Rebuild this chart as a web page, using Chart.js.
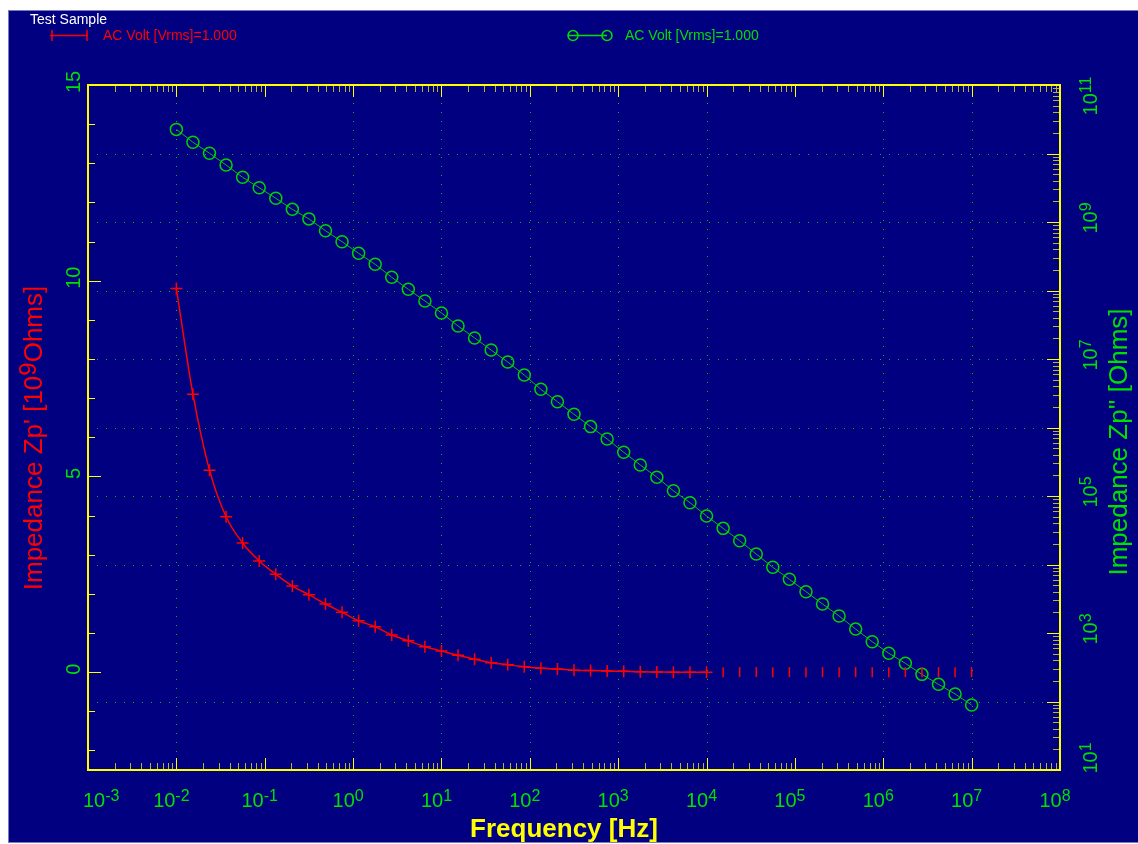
<!DOCTYPE html>
<html>
<head>
<meta charset="utf-8">
<title>Impedance Zp' / Zp'' vs frequency</title>
<script src="https://cdn.jsdelivr.net/npm/chart.js@4"></script>
<style>
  html, body { margin: 0; padding: 0; background: #ffffff; }
  canvas { display: block; }
</style>
</head>
<body>
<canvas id="chart" width="1138" height="844"></canvas>
<script>
// sweep frequencies [Hz]
const frequencies = [
    0.01, 0.0154, 0.02371, 0.03652, 0.05623, 0.0866, 0.1334, 0.2054, 0.3162, 0.487,
    0.7499, 1.155, 1.778, 2.738, 4.217, 6.494, 10, 15.4, 23.71, 36.52,
    56.23, 86.6, 133.4, 205.4, 316.2, 487, 749.9, 1155, 1778, 2738,
    4217, 6494, 1e4, 1.54e4, 2.371e4, 3.652e4, 5.623e4, 8.66e4, 1.334e5, 2.054e5,
    3.162e5, 4.87e5, 7.499e5, 1.155e6, 1.778e6, 2.738e6, 4.217e6, 6.494e6, 1e7
];
// Zp' [10^9 Ohms] (left axis)
const zpReal = [
    9.8, 7.1, 5.16, 3.97, 3.3, 2.84, 2.5, 2.2, 1.98, 1.74,
    1.53, 1.31, 1.16, 0.95, 0.8, 0.65, 0.54, 0.43, 0.33, 0.24,
    0.19, 0.14, 0.1, 0.08, 0.05, 0.04, 0.03, 0.02, 0.01, 0.005,
    0, 0, 0, 0, 0, 0, 0, 0, 0, 0,
    0, 0, 0, 0, 0, 0, 0, 0, 0
];
// Zp'' [Ohms] (right axis)
const zpImag = [
    2.25e10, 1.46e10, 1.01e10, 6.79e9, 4.49e9, 3.17e9, 2.22e9, 1.53e9, 1.11e9, 7.46e8,
    5.16e8, 3.49e8, 2.41e8, 1.56e8, 1.04e8, 7.03e7, 4.7e7, 3.03e7, 2.03e7, 1.35e7,
    9.04e6, 5.83e6, 3.61e6, 2.38e6, 1.56e6, 1.03e6, 6.8e5, 4.35e5, 2.84e5, 1.88e5,
    1.19e5, 7.98e4, 5.11e4, 3.37e4, 2.22e4, 1.42e4, 9.1e3, 6.08e3, 4.01e3, 2.65e3,
    1.77e3, 1.14e3, 746, 506, 361, 249, 178, 129, 88.9
];
// tick labels
const xTickExponents = ['-3', '-2', '-1', '0', '1', '2', '3', '4', '5', '6', '7', '8'];
const yLeftTicks = [15, 10, 5, 0];
const yRightExponents = ['11', '9', '7', '5', '3', '1'];
// dotted grid decades
const xGridExponents = [-2, 0, 1, 2, 3, 4, 6, 7];
const yGridExponents = [10, 9, 8, 7, 6, 5, 4, 2];

const lastLinePoint = 32; // Zp' line stops at 10^4 Hz, only markers after that

const FONT = '"Liberation Sans", Arial, sans-serif';
const NAVY = '#000080';
const YELLOW = '#ffff00';
const OLIVE = '#b4b43a';
const RED = '#ff0000';
const GREEN = '#00e000';
const GRID = '#00c000';

// draw "10" with a raised exponent, in the current transform
function drawPow(ctx, exp, x, y, anchor) {
    ctx.font = '20px ' + FONT;
    const wb = ctx.measureText('10').width;
    ctx.font = '16px ' + FONT;
    const we = ctx.measureText(exp).width;
    const x0 = anchor === 'left' ? x : x - (wb + we) / 2;
    ctx.textAlign = 'left';
    ctx.textBaseline = 'alphabetic';
    ctx.font = '20px ' + FONT;
    ctx.fillText('10', x0, y);
    ctx.font = '16px ' + FONT;
    ctx.fillText(exp, x0 + wb, y - 6);
}

function line(ctx, x1, y1, x2, y2) {
    ctx.beginPath();
    ctx.moveTo(x1, y1);
    ctx.lineTo(x2, y2);
    ctx.stroke();
}

const framePlugin = {
    id: 'frame',
    beforeDraw(chart) {
        const ctx = chart.ctx;
        ctx.save();
        ctx.fillStyle = '#ffffff';
        ctx.fillRect(0, 0, chart.width, chart.height);
        ctx.fillStyle = NAVY;
        ctx.fillRect(8, 10, 1130, 833);
        ctx.strokeStyle = '#7a7abf';
        ctx.lineWidth = 1;
        ctx.strokeRect(8.5, 10.5, 1130, 832);
        ctx.restore();
    },
    beforeDatasetsDraw(chart) {
        const { ctx, chartArea: a, scales } = chart;
        const sx = scales.x, sl = scales.y, sr = scales.y2;
        ctx.save();

        // dotted grid
        ctx.strokeStyle = GRID;
        ctx.lineWidth = 1;
        ctx.setLineDash([1, 8]);
        xGridExponents.forEach(e => {
            const px = Math.round(sx.getPixelForValue(Math.pow(10, e))) + 0.5;
            line(ctx, px, a.bottom, px, a.top);
        });
        yGridExponents.forEach(e => {
            const py = Math.round(sr.getPixelForValue(Math.pow(10, e))) + 0.5;
            line(ctx, a.left, py, a.right, py);
        });
        ctx.setLineDash([]);

        // x ticks, bottom and top, pointing inward
        for (let e = -3; e <= 8; e++) {
            for (let m = 1; m <= 9; m++) {
                if (e === 8 && m > 1) break;
                const px = Math.round(sx.getPixelForValue(m * Math.pow(10, e))) + 0.5;
                const len = m === 1 ? 12 : 7;
                ctx.strokeStyle = m === 1 ? YELLOW : OLIVE;
                line(ctx, px, a.bottom, px, a.bottom - len);
                line(ctx, px, a.top, px, a.top + len);
            }
        }
        // left linear ticks
        for (let v = -2; v <= 15; v++) {
            const py = Math.round(sl.getPixelForValue(v)) + 0.5;
            const major = v % 5 === 0;
            ctx.strokeStyle = major ? YELLOW : YELLOW;
            line(ctx, a.left, py, a.left + (major ? 13 : 7), py);
        }
        // right log ticks
        for (let e = 1; e <= 11; e++) {
            for (let m = 1; m <= 9; m++) {
                if (e === 11 && m > 1) break;
                const py = Math.round(sr.getPixelForValue(m * Math.pow(10, e))) + 0.5;
                ctx.strokeStyle = m === 1 ? YELLOW : OLIVE;
                line(ctx, a.right, py, a.right - (m === 1 ? 13 : 7), py);
            }
        }

        // frame
        ctx.strokeStyle = YELLOW;
        ctx.lineWidth = 2;
        ctx.strokeRect(a.left, a.top, a.right - a.left, a.bottom - a.top);
        ctx.restore();
    },
    afterDraw(chart) {
        const { ctx, chartArea: a, scales } = chart;
        const sx = scales.x, sl = scales.y, sr = scales.y2;
        ctx.save();

        // bottom tick labels
        ctx.fillStyle = GREEN;
        xTickExponents.forEach((e, i) => {
            const px = sx.getPixelForValue(Math.pow(10, Number(e)));
            if (i === 0) drawPow(ctx, e, 83, 807, 'left');
            else drawPow(ctx, e, px - 5, 807, 'center');
        });

        // left tick labels (rotated)
        ctx.font = '20px ' + FONT;
        yLeftTicks.forEach(v => {
            const py = sl.getPixelForValue(v);
            ctx.save();
            ctx.translate(80, py - 3);
            ctx.rotate(-Math.PI / 2);
            ctx.textAlign = 'center';
            ctx.textBaseline = 'alphabetic';
            ctx.fillText(String(v), 0, 0);
            ctx.restore();
        });

        // right tick labels (rotated)
        yRightExponents.forEach((e, i) => {
            const py = sr.getPixelForValue(Math.pow(10, Number(e)));
            let off = -4;
            if (i === 0) off = 11;
            if (i === yRightExponents.length - 1) off = -12;
            ctx.save();
            ctx.translate(1097, py + off);
            ctx.rotate(-Math.PI / 2);
            drawPow(ctx, e, 0, 0, 'center');
            ctx.restore();
        });

        // x axis title
        ctx.fillStyle = YELLOW;
        ctx.font = 'bold 26px ' + FONT;
        ctx.textAlign = 'center';
        ctx.textBaseline = 'alphabetic';
        ctx.fillText('Frequency [Hz]', 564, 837);

        // left axis title with superscript 9
        const parts = [
            { t: "Impedance Zp' [10", f: '26px ' + FONT, dy: 0 },
            { t: '9', f: '24px ' + FONT, dy: -6 },
            { t: 'Ohms]', f: '26px ' + FONT, dy: 0 }
        ];
        let total = 0;
        parts.forEach(p => { ctx.font = p.f; p.w = ctx.measureText(p.t).width; total += p.w; });
        ctx.save();
        ctx.translate(42, 438);
        ctx.rotate(-Math.PI / 2);
        ctx.fillStyle = RED;
        ctx.textAlign = 'left';
        let cx = -total / 2;
        parts.forEach(p => { ctx.font = p.f; ctx.fillText(p.t, cx, p.dy); cx += p.w; });
        ctx.restore();

        // right axis title
        ctx.save();
        ctx.translate(1127, 442);
        ctx.rotate(-Math.PI / 2);
        ctx.fillStyle = GREEN;
        ctx.font = '26px ' + FONT;
        ctx.textAlign = 'center';
        ctx.fillText("Impedance Zp'' [Ohms]", 0, 0);
        ctx.restore();

        // header and legend
        ctx.textAlign = 'left';
        ctx.fillStyle = '#ffffff';
        ctx.font = '14px ' + FONT;
        ctx.fillText('Test Sample', 30, 24);

        ctx.strokeStyle = RED;
        ctx.lineWidth = 1.5;
        line(ctx, 50, 35.5, 88, 35.5);
        line(ctx, 52, 30, 52, 41);
        line(ctx, 87, 30, 87, 41);
        ctx.fillStyle = RED;
        ctx.fillText('AC Volt [Vrms]=1.000', 103, 40);

        ctx.strokeStyle = GREEN;
        line(ctx, 568, 35.5, 607, 35.5);
        ctx.beginPath(); ctx.arc(573, 35.5, 5, 0, Math.PI * 2); ctx.stroke();
        ctx.beginPath(); ctx.arc(607, 35.5, 5, 0, Math.PI * 2); ctx.stroke();
        ctx.fillStyle = GREEN;
        ctx.fillText('AC Volt [Vrms]=1.000', 625, 40);

        ctx.restore();
    }
};

const hiddenAxis = {
    grid: { display: false },
    border: { display: false },
    ticks: { display: false }
};

new Chart(document.getElementById('chart'), {
    type: 'line',
    data: {
        datasets: [
            {
                label: 'AC Volt [Vrms]=1.000',
                data: frequencies.map((f, i) => ({ x: f, y: zpReal[i] })),
                yAxisID: 'y',
                borderColor: RED,
                borderWidth: 1.5,
                cubicInterpolationMode: 'monotone',
                segment: {
                    borderColor: c => c.p0DataIndex >= lastLinePoint ? 'rgba(0,0,0,0)' : RED
                },
                pointStyle: frequencies.map((f, i) => i <= lastLinePoint ? 'cross' : 'line'),
                pointRotation: frequencies.map((f, i) => i <= lastLinePoint ? 0 : 90),
                pointRadius: frequencies.map((f, i) => i <= lastLinePoint ? 6 : 5),
                pointBorderColor: RED,
                pointBorderWidth: 1.5
            },
            {
                label: 'AC Volt [Vrms]=1.000',
                data: frequencies.map((f, i) => ({ x: f, y: zpImag[i] })),
                yAxisID: 'y2',
                borderColor: '#10b810',
                borderWidth: 1,
                tension: 0,
                pointStyle: 'circle',
                pointRadius: 6,
                pointBackgroundColor: 'rgba(0,0,0,0)',
                pointBorderColor: '#00d400',
                pointBorderWidth: 1.5
            }
        ]
    },
    options: {
        responsive: false,
        animation: false,
        devicePixelRatio: 1,
        layout: { padding: { top: 85, left: 0, right: 0, bottom: 0 } },
        plugins: {
            legend: { display: false },
            title: { display: false },
            tooltip: { enabled: false }
        },
        scales: {
            x: Object.assign({
                type: 'logarithmic', position: 'bottom', min: 1e-3, max: 1e8,
                afterFit: s => { s.height = 74; }
            }, hiddenAxis),
            y: Object.assign({
                type: 'linear', position: 'left', min: -2.5, max: 15,
                afterFit: s => { s.width = 88; }
            }, hiddenAxis),
            y2: Object.assign({
                type: 'logarithmic', position: 'right', min: 10, max: 1e11,
                afterFit: s => { s.width = 78; }
            }, hiddenAxis)
        }
    },
    plugins: [framePlugin]
});
</script>
</body>
</html>
